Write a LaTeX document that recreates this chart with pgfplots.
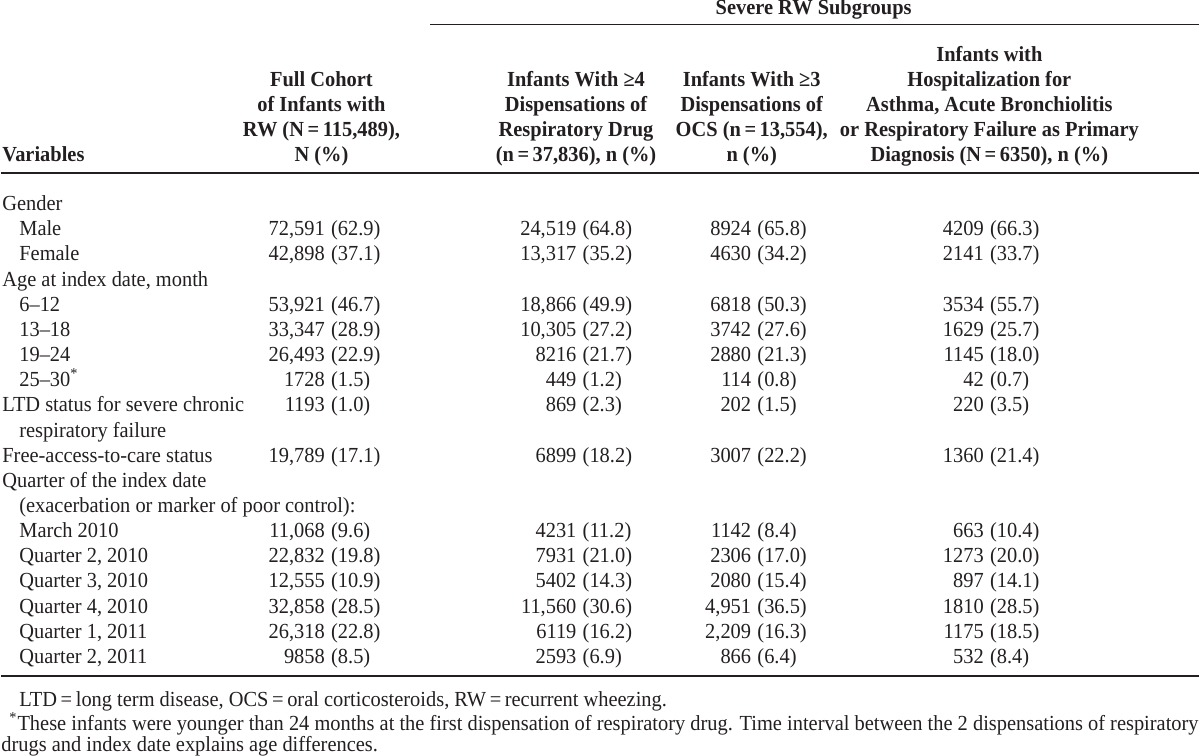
\documentclass[border=0pt]{standalone}
\usepackage{pgfplots}
\pgfplotsset{compat=1.18}
\usepackage{fontspec}
\setmainfont{Liberation Serif}[FakeStretch=0.95]
\definecolor{ink}{HTML}{231F20}
\newcommand\tf{\fontsize{10.8}{12.6}\selectfont}
% data cell: number right-aligned at split, percentage after a space
\newcommand\cell[3]{\node[anchor=base west,inner sep=0pt,font=\tf,text=ink] at (axis cs:#1,#2) {\llap{#3}};}
\newcommand\pct[3]{\node[anchor=base west,inner sep=0pt,font=\tf,text=ink] at (axis cs:#1,#2) {\hspace*{0.34em}(#3)};}
\newcommand\datarow[9]{%
  \cell{323}{#1}{#2}\pct{323}{#1}{#3}%
  \cell{575}{#1}{#4}\pct{575}{#1}{#5}%
  \cell{750}{#1}{#6}\pct{750}{#1}{#7}%
  \cell{983}{#1}{#8}\pct{983}{#1}{#9}}
\newcommand\lab[3]{\node[anchor=base west,inner sep=0pt,font=\tf,text=ink] at (axis cs:#1,#2) {#3};}
\newcommand\hd[3]{\node[anchor=base,inner sep=0pt,font=\tf\bfseries,text=ink] at (axis cs:#1,#2) {#3};}
\begin{document}
\begin{tikzpicture}
\begin{axis}[width=600bp,height=379bp,scale only axis,
  xmin=0,xmax=1200,ymin=0,ymax=758,y dir=reverse,
  axis lines=none,clip=false]
% rules
\addplot[ink,line width=0.65bp,no markers] coordinates {(430,25) (1200,25)};
\addplot[ink,line width=1bp,no markers] coordinates {(0,173.5) (1200,173.5)};
\addplot[ink,line width=1bp,no markers] coordinates {(0,678) (1200,678)};
% header
\hd{814}{15.5}{Severe RW Subgroups}
\node[anchor=base west,inner sep=0pt,font=\tf\bfseries,text=ink] at (axis cs:1,162) {Variables};
\hd{321}{87}{Full Cohort}
\hd{321}{112}{of Infants with}
\hd{321}{137}{RW (N\,=\,115,489),}
\hd{321}{162}{N (\%)}
\hd{576}{87}{Infants With ≥4}
\hd{576}{112}{Dispensations of}
\hd{576}{137}{Respiratory Drug}
\hd{576}{162}{(n\,=\,37,836), n (\%)}
\hd{752}{87}{Infants With ≥3}
\hd{752}{112}{Dispensations of}
\hd{752}{137}{OCS (n\,=\,13,554),}
\hd{752}{162}{n (\%)}
\hd{990}{62}{Infants with}
\hd{990}{87}{Hospitalization for}
\hd{990}{112}{Asthma, Acute Bronchiolitis}
\hd{990}{137}{or Respiratory Failure as Primary}
\hd{990}{162}{Diagnosis (N\,=\,6350), n (\%)}
% row labels
\lab{1}{211.5}{Gender}
\lab{18}{236.7}{Male}
\lab{18}{261.9}{Female}
\lab{1}{287.1}{Age at index date, month}
\lab{18}{312.3}{6–12}
\lab{18}{337.5}{13–18}
\lab{18}{362.7}{19–24}
\lab{18}{387.9}{25–30\textsuperscript{*}}
\lab{1}{413.1}{LTD status for severe chronic}
\lab{18}{438.3}{respiratory failure}
\lab{1}{463.5}{Free-access-to-care status}
\lab{1}{488.7}{Quarter of the index date}
\lab{18}{513.9}{(exacerbation or marker of poor control):}
\lab{18}{539.1}{March 2010}
\lab{18}{564.3}{Quarter 2, 2010}
\lab{18}{589.5}{Quarter 3, 2010}
\lab{18}{614.7}{Quarter 4, 2010}
\lab{18}{639.9}{Quarter 1, 2011}
\lab{18}{665.1}{Quarter 2, 2011}
% data
\datarow{236.7}{72,591}{62.9}{24,519}{64.8}{8924}{65.8}{4209}{66.3}
\datarow{261.9}{42,898}{37.1}{13,317}{35.2}{4630}{34.2}{2141}{33.7}
\datarow{312.3}{53,921}{46.7}{18,866}{49.9}{6818}{50.3}{3534}{55.7}
\datarow{337.5}{33,347}{28.9}{10,305}{27.2}{3742}{27.6}{1629}{25.7}
\datarow{362.7}{26,493}{22.9}{8216}{21.7}{2880}{21.3}{1145}{18.0}
\datarow{387.9}{1728}{1.5}{449}{1.2}{114}{0.8}{42}{0.7}
\datarow{413.1}{1193}{1.0}{869}{2.3}{202}{1.5}{220}{3.5}
\datarow{463.5}{19,789}{17.1}{6899}{18.2}{3007}{22.2}{1360}{21.4}
\datarow{539.1}{11,068}{9.6}{4231}{11.2}{1142}{8.4}{663}{10.4}
\datarow{564.3}{22,832}{19.8}{7931}{21.0}{2306}{17.0}{1273}{20.0}
\datarow{589.5}{12,555}{10.9}{5402}{14.3}{2080}{15.4}{897}{14.1}
\datarow{614.7}{32,858}{28.5}{11,560}{30.6}{4,951}{36.5}{1810}{28.5}
\datarow{639.9}{26,318}{22.8}{6119}{16.2}{2,209}{16.3}{1175}{18.5}
\datarow{665.1}{9858}{8.5}{2593}{6.9}{866}{6.4}{532}{8.4}
% footnotes
\lab{18}{708}{LTD\,=\,long term disease, OCS\,=\,oral corticosteroids, RW\,=\,recurrent wheezing.}
\lab{8}{732}{\textsuperscript{*}These infants were younger than 24 months at the first dispensation of respiratory drug. Time interval between the 2 dispensations of respiratory}
\lab{0}{753}{drugs and index date explains age differences.}
\end{axis}
\end{tikzpicture}
\end{document}
